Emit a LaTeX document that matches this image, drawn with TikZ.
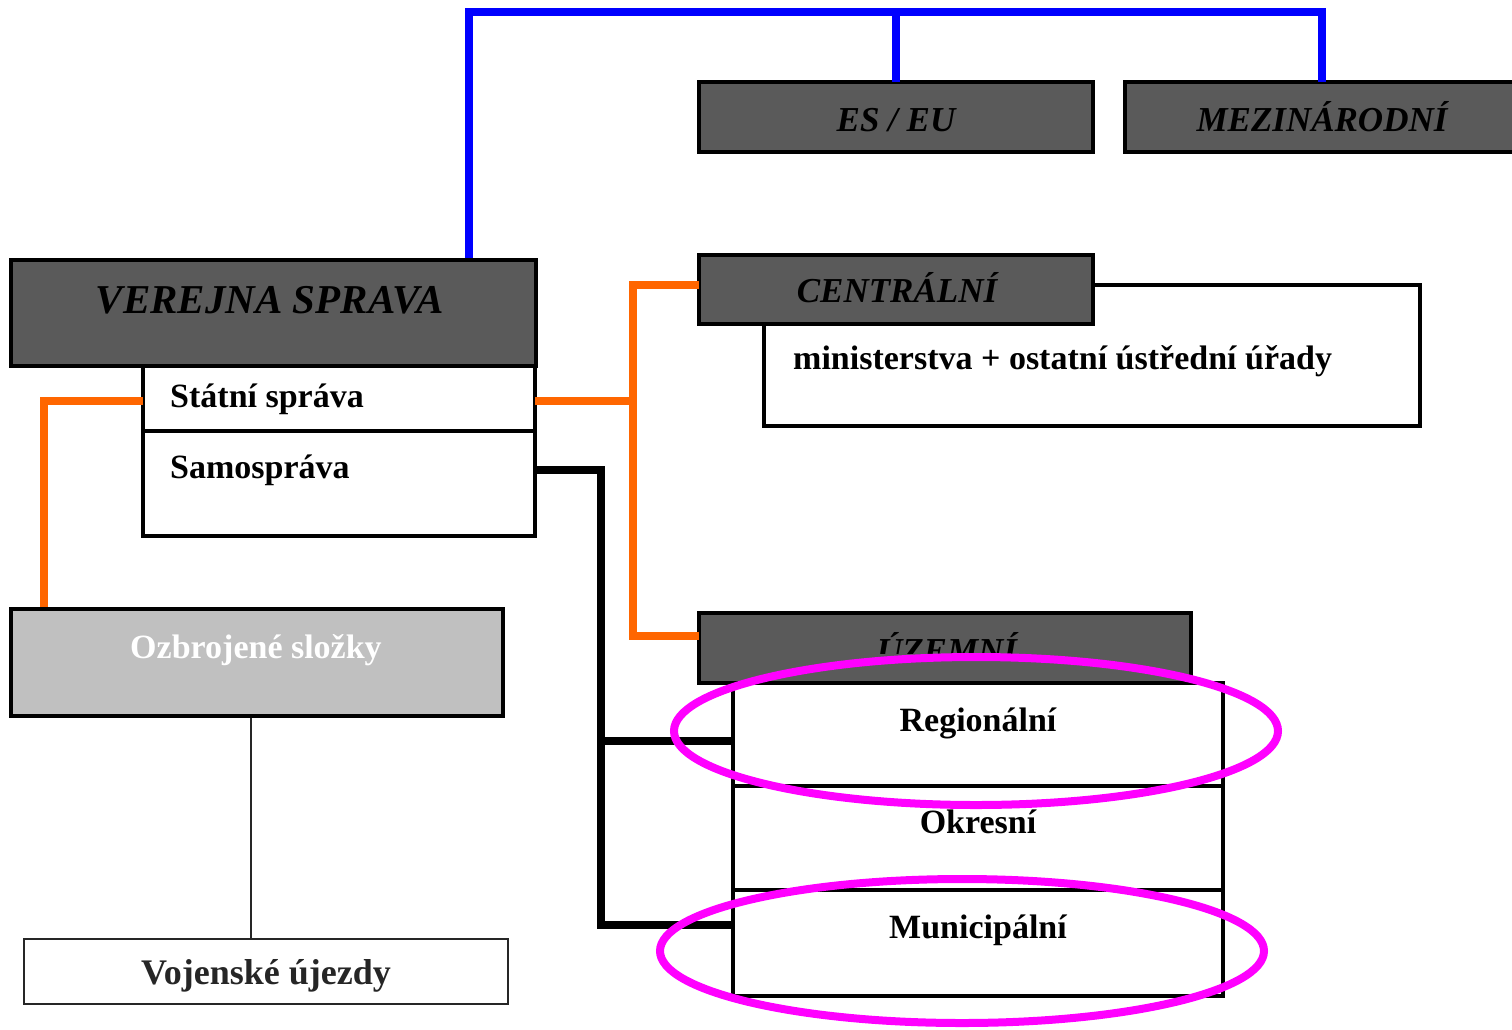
\documentclass[tikz,border=0pt]{standalone}
\usepackage{fontspec}
\setmainfont{Liberation Serif}
\usetikzlibrary{shapes.geometric}
\definecolor{dgray}{HTML}{5A5A5A}
\definecolor{lgray}{HTML}{C0C0C0}
\definecolor{orng}{HTML}{FF6600}
\definecolor{blu}{HTML}{0000FF}
\definecolor{pink}{HTML}{FF00FF}
\definecolor{vgray}{HTML}{262626}
\tikzset{
  darkbox/.style={draw=black, line width=4pt, fill=dgray, rectangle, inner sep=0pt},
  whitebox/.style={draw=black, line width=4pt, fill=white, rectangle, inner sep=0pt},
  greybox/.style={draw=black, line width=4pt, fill=lgray, rectangle, inner sep=0pt},
  thinbox/.style={draw=vgray, line width=2pt, fill=white, rectangle, inner sep=0pt},
  ital/.style={font=\fontsize{35}{40}\selectfont\bfseries\itshape, text=black, inner sep=0pt, anchor=base},
  lbl/.style={font=\fontsize{34}{40}\selectfont\bfseries, text=black, inner sep=0pt, anchor=base},
  blueline/.style={draw=blu, line width=8pt},
  orangeline/.style={draw=orng, line width=8pt},
  blackline/.style={draw=black, line width=8pt},
  thinline/.style={draw=vgray, line width=1.5pt},
  ring/.style={draw=pink, line width=8pt, ellipse, inner sep=0pt},
}
\begin{document}
\begin{tikzpicture}[x=1pt,y=-1pt]
\useasboundingbox (0,0) rectangle (1512,1029);
\fill[white] (0,0) rectangle (1512,1029);

% boxes
\node[darkbox, minimum width=394, minimum height=70] (eseu) at (896,117) {};
\node[darkbox, minimum width=394, minimum height=70] (mez) at (1322,117) {};
\node[darkbox, minimum width=525, minimum height=106] (vs) at (273.5,313) {};
\node[whitebox, minimum width=392, minimum height=65] (st) at (339,398.5) {};
\node[whitebox, minimum width=392, minimum height=105] (sam) at (339,483.5) {};
\node[greybox, minimum width=492, minimum height=107] (ozb) at (257,662.5) {};
\node[thinbox, minimum width=484, minimum height=65] (voj) at (266,971.5) {};
\node[whitebox, minimum width=656, minimum height=141] (min) at (1092,355.5) {};
\node[darkbox, minimum width=394, minimum height=69] (cen) at (896,289.5) {};
\node[darkbox, minimum width=492, minimum height=70] (uz) at (945,648) {};
\node[whitebox, minimum width=490, minimum height=103] (reg) at (978,734.5) {};
\node[whitebox, minimum width=490, minimum height=104] (okr) at (978,838) {};
\node[whitebox, minimum width=490, minimum height=106] (mun) at (978,943) {};

% texts
\node[ital, font=\fontsize{41}{46}\selectfont\bfseries\itshape] (tvs) at (270,313) {VEREJNA SPRAVA};
\node[ital] (teseu) at (896,131) {ES / EU};
\node[ital] (tmez) at (1322,131) {MEZINÁRODNÍ};
\node[ital] (tcen) at (897,302) {CENTRÁLNÍ};
\begin{scope}
  \clip (699,613) rectangle (1191,653);
  \node[ital] (tuz) at (947,662) {ÚZEMNÍ};
\end{scope}
\node[lbl, anchor=base west] (tst) at (170,407) {Státní správa};
\node[lbl, anchor=base west] (tsam) at (170,478) {Samospráva};
\node[lbl, anchor=base west] (tmin) at (793,369) {ministerstva + ostatní ústřední úřady};
\node[lbl, text=white] (tozb) at (256,658) {Ozbrojené složky};
\node[lbl, text=vgray, font=\fontsize{36}{40}\selectfont\bfseries] (tvoj) at (266,984) {Vojenské újezdy};
\node[lbl] (treg) at (978,731) {Regionální};
\node[lbl] (tokr) at (978,833) {Okresní};
\node[lbl] (tmun) at (978,938) {Municipální};

% connector helper coordinates
\coordinate (vtop) at (469,258);
\coordinate (btop) at (0,12);
\coordinate (ol) at (44,607);
\coordinate (orx) at (633,401);
\coordinate (oc) at (699,285);
\coordinate (ou) at (699,636);
\coordinate (bs) at (535,470);
\coordinate (bv) at (601,0);
\coordinate (rgl) at (733,741);
\coordinate (mul) at (733,925);
\coordinate (lx) at (251,0);

% blue
\draw[blueline] (vtop) |- (btop -| mez.north) -- ([yshift=-2pt]mez.north);
\draw[blueline] ([yshift=-2pt]eseu.north) -- (eseu.north |- btop);
% orange
\draw[orangeline] ([xshift=2pt]st.west |- orx) -| (ol);
\draw[orangeline] ([xshift=-2pt]st.east |- orx) -- (orx);
\draw[orangeline] (oc) -| (orx) |- (ou);
% black
\draw[blackline] (bs) -| (mul -| bv) -- (mul);
\draw[blackline] (rgl -| bv) -- (rgl);
% thin
\draw[thinline] (ozb.south -| lx) -- (voj.north -| lx);

% rings
\node[ring, minimum width=604, minimum height=148] (ring1) at (976,731) {};
\node[ring, minimum width=604, minimum height=144] (ring2) at (962,951) {};
\end{tikzpicture}
\end{document}
